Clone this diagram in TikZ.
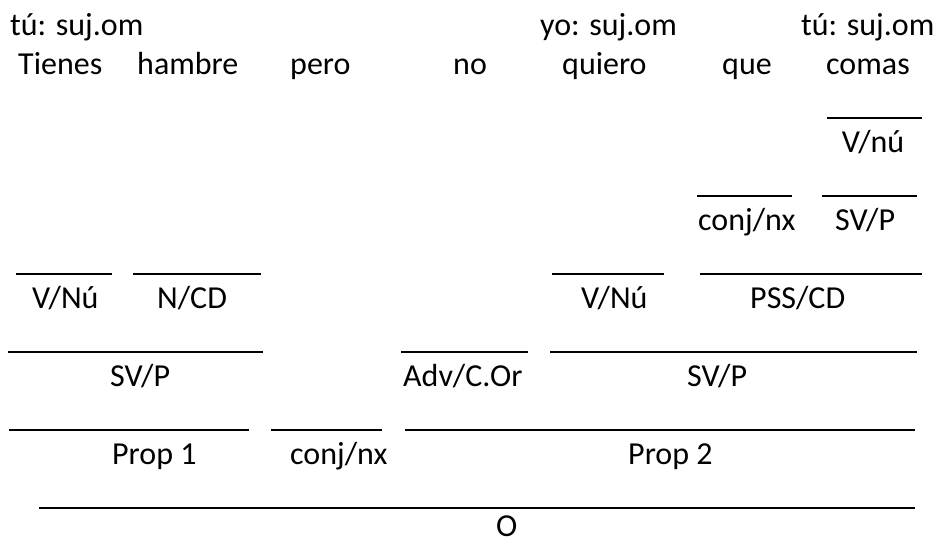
\documentclass[tikz,border=0pt]{standalone}
\usepackage{fontspec}
\setmainfont{Carlito}
\begin{document}
\begin{tikzpicture}[x=1pt,y=-1pt,
  lbl/.style={anchor=base west,inner sep=0pt,font=\fontsize{32}{38}\selectfont},
  clbl/.style={anchor=base,inner sep=0pt,font=\fontsize{32}{38}\selectfont},
  bar/.style={line width=1.7pt}]
\useasboundingbox (0,0) rectangle (937,542);
% row 1
\node[lbl] (s1) at (10,35) {tú: suj.om};
\node[lbl] (s2) at (540,35) {yo: suj.om};
\node[lbl] (s3) at (801,35) {tú: suj.om};
% row 2
\node[lbl] (w1) at (18,74) {Tienes};
\node[lbl] (w2) at (137,74) {hambre};
\node[lbl] (w3) at (290,74) {pero};
\node[lbl] (w4) at (453,74) {no};
\node[lbl] (w5) at (562,74) {quiero};
\node[lbl] (w6) at (722,74) {que};
\node[lbl] (w7) at (826,74) {comas};
% V/nu
\draw[bar] (827,118) -- (922,118);
\node[clbl] (vnu) at (873,152) {V/nú};
% conj/nx SV/P
\draw[bar] (697,196) -- (792,196);
\draw[bar] (822,196) -- (917,196);
\node[lbl] (cj1) at (698,230) {conj/nx};
\node[lbl] (svp1) at (835,230) {SV/P};
% V/Nu row
\draw[bar] (16,274) -- (112,274);
\draw[bar] (133,274) -- (261,274);
\draw[bar] (552,274) -- (664,274);
\draw[bar] (700,274) -- (922,274);
\node[lbl] (vn1) at (32,308) {V/Nú};
\node[lbl] (ncd) at (157,308) {N/CD};
\node[lbl] (vn2) at (581,308) {V/Nú};
\node[lbl] (pss) at (750,308) {PSS/CD};
% SV/P row
\draw[bar] (8,352) -- (263,352);
\draw[bar] (401,352) -- (528,352);
\draw[bar] (550,352) -- (917,352);
\node[lbl] (svp2) at (110,386) {SV/P};
\node[lbl] (adv) at (403,386) {Adv/C.Or};
\node[lbl] (svp3) at (687,386) {SV/P};
% Prop row
\draw[bar] (9,430) -- (249,430);
\draw[bar] (271,430) -- (382,430);
\draw[bar] (405,430) -- (915,430);
\node[lbl] (p1) at (112,464) {Prop 1};
\node[lbl] (cj2) at (290,464) {conj/nx};
\node[lbl] (p2) at (628,464) {Prop 2};
% O
\draw[bar] (39,508) -- (915,508);
\node[lbl] (o) at (496,536) {O};
\end{tikzpicture}
\end{document}
